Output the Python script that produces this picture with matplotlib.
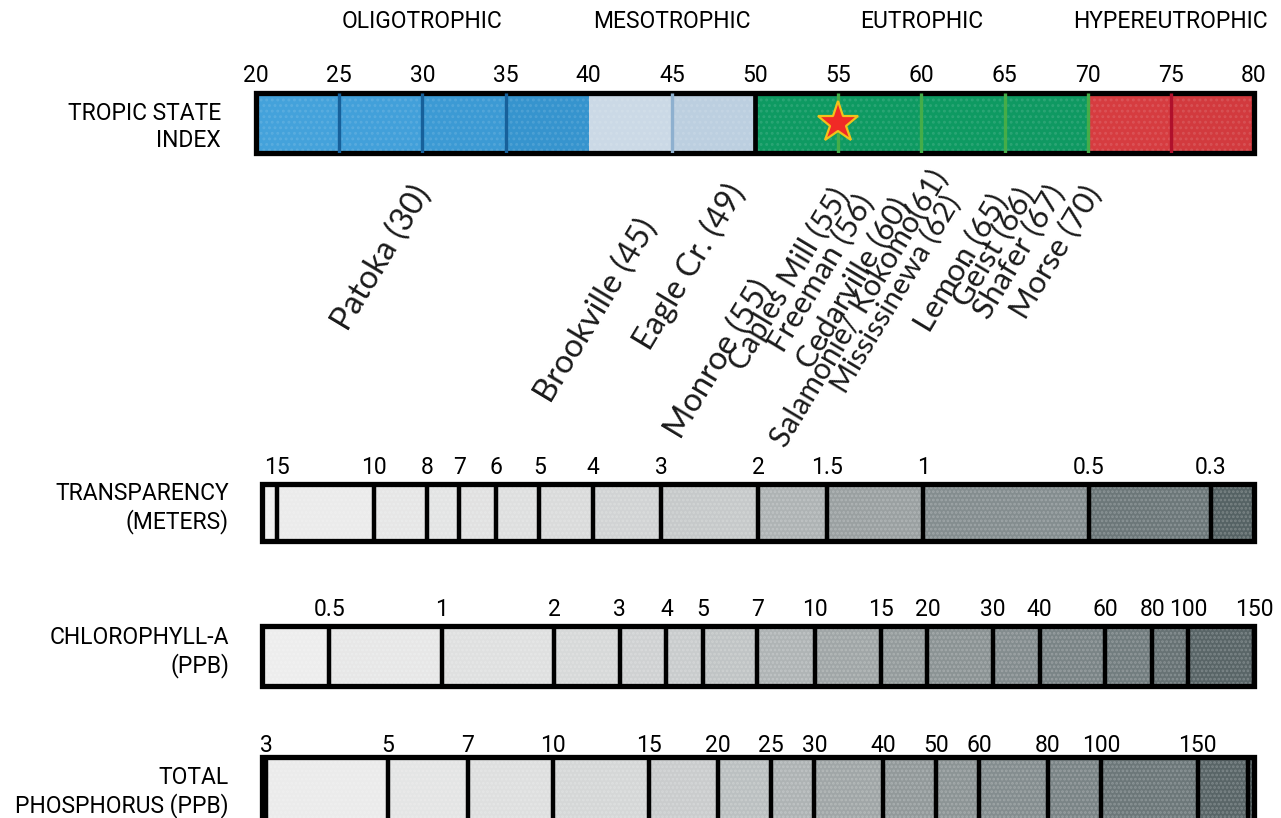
import numpy as np
import matplotlib
matplotlib.use("Agg")
import matplotlib.pyplot as plt
from matplotlib.patches import Rectangle
from matplotlib.colors import LinearSegmentedColormap, to_rgb
import matplotlib.transforms as mtransforms

# ---------------- data ----------------
tsi_bounds = [20, 25, 30, 35, 40, 45, 50, 55, 60, 65, 70, 75, 80]
tsi_tick_labels = ["20", "25", "30", "35", "40", "45", "50", "55", "60", "65", "70", "75", "80"]
state_names = ["OLIGOTROPHIC", "MESOTROPHIC", "EUTROPHIC", "HYPEREUTROPHIC"]
state_lo = [20, 40, 50, 70]
state_hi = [40, 50, 70, 80]
star_tsi = 55

lake_labels = ["Patoka (30)", "Brookville (45)", "Eagle Cr. (49)", "Monroe (55)",
               "Caples Mill (55)", "Freeman (56)", "Cedarville (60)",
               "Salamonie/ Kokomo(61)", "Mississinewa (62)", "Lemon (65)",
               "Geist (66)", "Shafer (67)", "Morse (70)"]
lake_tsi = [30, 45, 49, 55, 55, 56, 60, 61, 62, 65, 66, 67, 70]

sd_values = [15, 10, 8, 7, 6, 5, 4, 3, 2, 1.5, 1, 0.5, 0.3]
sd_labels = ["15", "10", "8", "7", "6", "5", "4", "3", "2", "1.5", "1", "0.5", "0.3"]
sd_range = (16, 0.25)

chl_values = [0.5, 1, 2, 3, 4, 5, 7, 10, 15, 20, 30, 40, 60, 80, 100, 150]
chl_labels = ["0.5", "1", "2", "3", "4", "5", "7", "10", "15", "20", "30", "40",
              "60", "80", "100", "150"]
chl_range = (0.33, 150)

tp_values = [3, 5, 7, 10, 15, 20, 25, 30, 40, 50, 60, 80, 100, 150, 185]
tp_labels = ["3", "5", "7", "10", "15", "20", "25", "30", "40", "50", "60", "80",
             "100", "150", ""]
tp_range = (2.95, 190)

# ---------------- style ----------------
W, H = 1281, 818
LABEL_FONT = ["Roboto", "DejaVu Sans"]
LAKE_FONT = ["Lato", "DejaVu Sans"]
FS = 16.5

seg_colors = ["#44a2db", "#42a0da", "#3c9ad4", "#3694ce",
              "#cbd9e6", "#bccfe0",
              "#0e9a62", "#0e9a62", "#0e9a62", "#0f9962",
              "#d63c40", "#d23a3e"]
div_colors = {25: "#17609a", 30: "#17609a", 35: "#17609a", 45: "#8eb0cf",
              50: "black", 55: "#45ad48", 60: "#45ad48", 65: "#45ad48",
              70: "#45ad48", 75: "#b0102c"}

plt.rcParams["hatch.linewidth"] = 1.3
fig = plt.figure(figsize=(W / 100, H / 100), dpi=100)
fig.patch.set_facecolor("white")


def fig_rect(x0, y0, x1, y1):
    return [x0 / W, 1 - y1 / H, (x1 - x0) / W, (y1 - y0) / H]


def tint(c, f):
    r, g, b = to_rgb(c)
    return (r + (1 - r) * f, g + (1 - g) * f, b + (1 - b) * f)


def fy(py):
    return 1 - py / H


# ---------------- TSI bar ----------------
ax = fig.add_axes(fig_rect(256, 93, 1254, 153))
ax.set_xlim(20, 80)
ax.set_ylim(0, 1)
ax.axis("off")
for i in range(len(tsi_bounds) - 1):
    a, b = tsi_bounds[i], tsi_bounds[i + 1]
    ax.add_patch(Rectangle((a, 0), b - a, 1, facecolor=seg_colors[i], edgecolor="none"))
    ax.add_patch(Rectangle((a, 0), b - a, 1, fill=False, hatch="...",
                           edgecolor=tint(seg_colors[i], 0.12), linewidth=0))
for v in tsi_bounds[1:-1]:
    if v in div_colors:
        lw = 3.4 if div_colors[v] == "black" else 2.4
        ax.plot([v, v], [0, 1], color=div_colors[v], lw=lw, solid_capstyle="butt")
ax.add_patch(Rectangle((20, 0), 60, 1, fill=False, edgecolor="black", lw=3.8,
                       clip_on=False, joinstyle="miter"))
ax.plot([star_tsi], [0.5], marker="*", ms=31, color="#f02a26", mec="#f2c21a", mew=1.6,
        clip_on=False, zorder=5)

blend = mtransforms.blended_transform_factory(ax.transData, fig.transFigure)
for v, lab in zip(tsi_bounds, tsi_tick_labels):
    fig.text(v, fy(75), lab, transform=blend, ha="center", va="center",
             fontsize=FS, family=LABEL_FONT)
for name, lo, hi in zip(state_names, state_lo, state_hi):
    fig.text((lo + hi) / 2, fy(22), name, transform=blend, ha="center", va="center",
             fontsize=FS, family=LABEL_FONT)

# lake labels (layout: px offsets of the label end from its TSI, end heights, sizes)
lake_dx = [1, -22, -1, -73, 4, 12, -19, 2, -1, -4, 6, 19, 6]
lake_y = [188, 222, 187, 283, 190, 197, 200, 172, 198, 197, 190, 187, 188]
lake_fs = [23.5, 23.5, 23, 23.5, 22, 22, 22, 21.5, 21, 22.5, 22.5, 22.5, 22.5]
px_per_tsi = (1254 - 256) / 60
for lab, v, dx, py, fs in zip(lake_labels, lake_tsi, lake_dx, lake_y, lake_fs):
    fig.text(v + dx / px_per_tsi, fy(py), lab, transform=blend, ha="right", va="center",
             rotation=59, rotation_mode="anchor", fontsize=fs, family=LAKE_FONT,
             color="#1a1a1a")

# left labels
left_labels = [("TROPIC STATE\nINDEX", 221, 127), ("TRANSPARENCY\n(METERS)", 229, 508),
               ("CHLOROPHYLL-A\n(PPB)", 229, 652), ("TOTAL\nPHOSPHORUS (PPB)", 229, 792)]
for t, px, py in left_labels:
    fig.text(px / W, fy(py), t, ha="right", va="center", fontsize=FS, family=LABEL_FONT,
             linespacing=1.2)

# ---------------- gray bars ----------------
gray = LinearSegmentedColormap.from_list(
    "g", [(0, "#efefef"), (0.3, "#dbdcdc"), (0.45, "#c6c9ca"), (0.55, "#a9afb0"),
          (0.65, "#939a9b"), (0.77, "#828b8d"), (0.88, "#717c7e"), (1.0, "#505d5f")])


def gray_bar(y0, y1, values, labels, lim, label_y):
    a = fig.add_axes(fig_rect(262, y0, 1254, y1))
    a.set_xscale("log")
    a.set_xlim(*lim)
    a.set_ylim(0, 1)
    a.axis("off")
    lo, hi = lim
    bounds = [lo] + [v for v in values if (v - lo) * (v - hi) < 0] + [hi]
    span = np.log(hi) - np.log(lo)
    for i in range(len(bounds) - 1):
        b0, b1 = bounds[i], bounds[i + 1]
        mid = (np.log(b0) + np.log(b1)) / 2
        frac = (mid - np.log(lo)) / span
        c = gray(frac)
        a.add_patch(Rectangle((b0, 0), b1 - b0, 1, facecolor=c, edgecolor="none"))
        a.add_patch(Rectangle((b0, 0), b1 - b0, 1, fill=False, hatch="....",
                              edgecolor=tint(c, 0.22), linewidth=0))
    for v in values:
        a.plot([v, v], [0, 1], color="black", lw=3.2, solid_capstyle="butt")
    a.add_patch(Rectangle((0, 0), 1, 1, transform=a.transAxes, fill=False,
                          edgecolor="black", lw=3.8, clip_on=False, joinstyle="miter"))
    bl = mtransforms.blended_transform_factory(a.transData, fig.transFigure)
    for v, lab in zip(values, labels):
        fig.text(v, fy(label_y), lab, transform=bl, ha="center", va="center",
                 fontsize=FS, family=LABEL_FONT)


gray_bar(484, 541, sd_values, sd_labels, sd_range, 467)
gray_bar(626, 686, chl_values, chl_labels, chl_range, 610)
gray_bar(757, 824, tp_values, tp_labels, tp_range, 745)

fig.savefig("out.png", dpi=100, facecolor="white")
